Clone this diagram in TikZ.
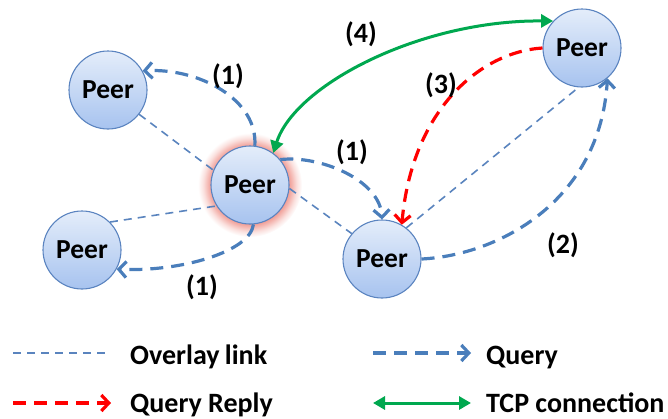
\documentclass[tikz,border=0pt]{standalone}
\usepackage{fontspec}
\setmainfont{Carlito}
\usetikzlibrary{arrows.meta}
\definecolor{qblue}{HTML}{4A7EBB}
\definecolor{oblue}{HTML}{5A84BE}
\definecolor{rred}{HTML}{FF0000}
\definecolor{tgreen}{HTML}{00A84F}
\definecolor{pborder}{HTML}{5B84C0}
\definecolor{ptop}{HTML}{E4EDFA}
\definecolor{pbot}{HTML}{A7C3EF}
\definecolor{glowc}{HTML}{F09A92}
\pgfdeclareradialshading{peerglow}{\pgfpoint{0bp}{0bp}}{%
  color(0bp)=(glowc); color(18.5bp)=(glowc); color(20bp)=(glowc!75!white);
  color(22.5bp)=(glowc!30!white); color(25bp)=(white); color(50bp)=(white)}
\begin{document}
\begin{tikzpicture}[x=1pt,y=-1pt,
  peer/.style={circle, draw=pborder, line width=1.1pt, top color=ptop, bottom color=pbot,
    minimum size=78pt, inner sep=0pt, font=\bfseries\fontsize{27.5}{30}\selectfont},
  lbl/.style={font=\bfseries\fontsize{28}{30}\selectfont, inner sep=0pt},
  overlay link/.style={draw=oblue, line width=1.6pt, dash pattern=on 8pt off 6pt},
  query/.style={draw=qblue, line width=3.2pt, dash pattern=on 13pt off 8pt,
    -{Straight Barb[length=7.5pt,width=16pt,line width=3.2pt]}},
  reply/.style={draw=rred, line width=3.2pt, dash pattern=on 13pt off 8pt,
    -{Straight Barb[length=7.5pt,width=16pt,line width=3.2pt]}},
  tcp/.style={draw=tgreen, line width=3pt,
    {Triangle[length=12pt,width=13pt]}-{Triangle[length=12pt,width=13pt]}}]
\useasboundingbox (0,0) rectangle (668,418);

% glow behind centre peer
\shade[shading=peerglow] (250,185) circle (52);

% peers
\node[peer] (tl) at (108,90) {Peer};
\node[peer] (c)  at (250,185) {Peer};
\node[peer] (bl) at (82,250) {Peer};
\node[peer] (m)  at (382,259) {Peer};
\node[peer] (tr) at (582,48) {Peer};

% overlay links
\draw[overlay link] (tl.-38) -- (c.158);
\draw[overlay link] (bl.45) -- (c.212);
\draw[overlay link] (c.-5) -- (m.140);
\draw[overlay link] (m.52) -- (tr.-95);

% queries
\draw[query] (c.83) .. controls (258,100) and (200,68) .. (tl.29);
\draw[query] (c.-85) .. controls (250,252) and (180,272) .. (bl.-29);
\draw[query] (c.40) .. controls (320,155) and (380,180) .. (m.90);
\draw[query] (m.east) .. controls (500,255) and (600,200) .. (tr.-50);

% query reply
\draw[reply] (tr.west) .. controls (480,52) and (412,110) .. (m.60);

% tcp connection
\draw[tcp] (c.54) .. controls (295,85) and (420,20) .. (tr.137);

% step labels
\node[lbl] (l1a) at (228,76) {(1)};
\node[lbl] (l1b) at (352,152) {(1)};
\node[lbl] (l1c) at (202,287) {(1)};
\node[lbl] (l2) at (563,245) {(2)};
\node[lbl] (l3) at (441,85) {(3)};
\node[lbl] (l4) at (361,34) {(4)};

% legend
\coordinate (lg1a) at (13,353);  \coordinate (lg1b) at (110,353);
\coordinate (lg2a) at (13,403);  \coordinate (lg2b) at (111,403);
\coordinate (lg3a) at (373,353); \coordinate (lg3b) at (471,353);
\coordinate (lg4a) at (373,403); \coordinate (lg4b) at (471,403);
\draw[overlay link] (lg1a) -- (lg1b);
\draw[reply] (lg2a) -- (lg2b);
\draw[query] (lg3a) -- (lg3b);
\draw[tcp] (lg4a) -- (lg4b);
\node[lbl, anchor=base west] (t1) at (130,364) {Overlay\kern-1pt\ link};
\node[lbl, anchor=base west] (t2) at (130,412) {Query Reply};
\node[lbl, anchor=base west] (t3) at (486,364) {Query};
\node[lbl, anchor=base west] (t4) at (486,412) {TCP connection};
\end{tikzpicture}
\end{document}
